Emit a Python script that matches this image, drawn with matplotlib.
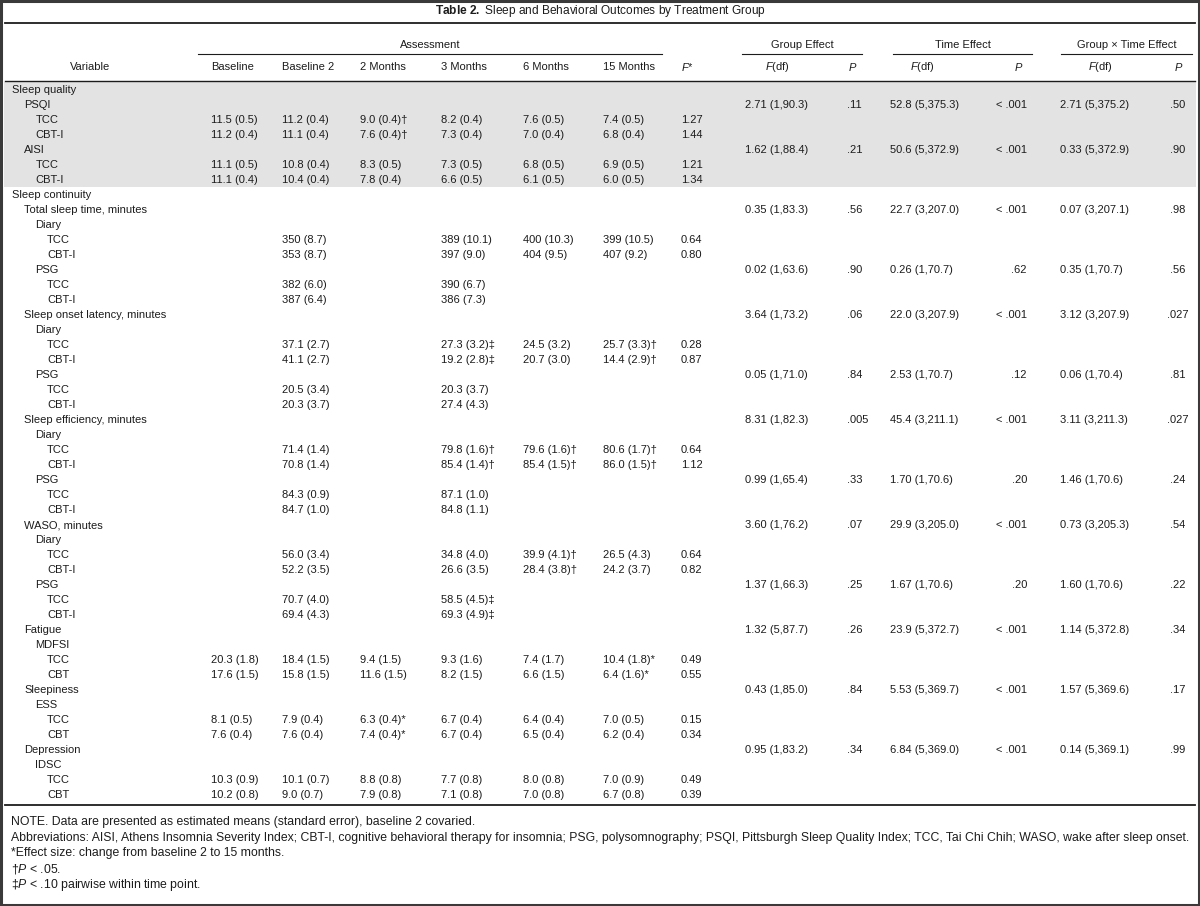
"""Table 2 (sleep and behavioral outcomes by treatment group) drawn as a matplotlib figure."""

import matplotlib

matplotlib.use("Agg")
import matplotlib.pyplot as plt  # noqa: E402
from matplotlib.patches import Rectangle  # noqa: E402

plt.rcParams["font.family"] = ["Liberation Sans", "DejaVu Sans"]
plt.rcParams["mathtext.fontset"] = "custom"
plt.rcParams["mathtext.rm"] = "Liberation Sans"
plt.rcParams["mathtext.it"] = "Liberation Sans:italic"
plt.rcParams["mathtext.bf"] = "Liberation Sans:bold"

# ---- row labels (indent level, text) ------------------------------------
row_labels = [
    "Sleep quality", "PSQI", "TCC", "CBT-I", "AISI", "TCC", "CBT-I",
    "Sleep continuity", "Total sleep time, minutes", "Diary", "TCC", "CBT-I",
    "PSG", "TCC", "CBT-I",
    "Sleep onset latency, minutes", "Diary", "TCC", "CBT-I", "PSG", "TCC", "CBT-I",
    "Sleep efficiency, minutes", "Diary", "TCC", "CBT-I", "PSG", "TCC", "CBT-I",
    "WASO, minutes", "Diary", "TCC", "CBT-I", "PSG", "TCC", "CBT-I",
    "Fatigue", "MDFSI", "TCC", "CBT",
    "Sleepiness", "ESS", "TCC", "CBT",
    "Depression", "IDSC", "TCC", "CBT",
]
row_levels = [
    0, 1, 2, 2, 1, 2, 2,
    0, 1, 2, 3, 3, 2, 3, 3,
    1, 2, 3, 3, 2, 3, 3,
    1, 2, 3, 3, 2, 3, 3,
    1, 2, 3, 3, 2, 3, 3,
    1, 2, 3, 3,
    1, 2, 3, 3,
    1, 2, 3, 3,
]

# ---- assessment means (SE), one entry per group row ---------------------
value_rows = [2, 3, 5, 6, 10, 11, 13, 14, 17, 18, 20, 21, 24, 25, 27, 28,
              31, 32, 34, 35, 38, 39, 42, 43, 46, 47]
baseline = ["11.5 (0.5)", "11.2 (0.4)", "11.1 (0.5)", "11.1 (0.4)",
            "", "", "", "", "", "", "", "", "", "", "", "", "", "", "", "",
            "20.3 (1.8)", "17.6 (1.5)", "8.1 (0.5)", "7.6 (0.4)", "10.3 (0.9)", "10.2 (0.8)"]
baseline2 = ["11.2 (0.4)", "11.1 (0.4)", "10.8 (0.4)", "10.4 (0.4)",
             "350 (8.7)", "353 (8.7)", "382 (6.0)", "387 (6.4)",
             "37.1 (2.7)", "41.1 (2.7)", "20.5 (3.4)", "20.3 (3.7)",
             "71.4 (1.4)", "70.8 (1.4)", "84.3 (0.9)", "84.7 (1.0)",
             "56.0 (3.4)", "52.2 (3.5)", "70.7 (4.0)", "69.4 (4.3)",
             "18.4 (1.5)", "15.8 (1.5)", "7.9 (0.4)", "7.6 (0.4)", "10.1 (0.7)", "9.0 (0.7)"]
month2 = ["9.0 (0.4)†", "7.6 (0.4)†", "8.3 (0.5)", "7.8 (0.4)",
          "", "", "", "", "", "", "", "", "", "", "", "", "", "", "", "",
          "9.4 (1.5)", "11.6 (1.5)", "6.3 (0.4)*", "7.4 (0.4)*", "8.8 (0.8)", "7.9 (0.8)"]
month3 = ["8.2 (0.4)", "7.3 (0.4)", "7.3 (0.5)", "6.6 (0.5)",
          "389 (10.1)", "397 (9.0)", "390 (6.7)", "386 (7.3)",
          "27.3 (3.2)‡", "19.2 (2.8)‡", "20.3 (3.7)", "27.4 (4.3)",
          "79.8 (1.6)†", "85.4 (1.4)†", "87.1 (1.0)", "84.8 (1.1)",
          "34.8 (4.0)", "26.6 (3.5)", "58.5 (4.5)‡", "69.3 (4.9)‡",
          "9.3 (1.6)", "8.2 (1.5)", "6.7 (0.4)", "6.7 (0.4)", "7.7 (0.8)", "7.1 (0.8)"]
month6 = ["7.6 (0.5)", "7.0 (0.4)", "6.8 (0.5)", "6.1 (0.5)",
          "400 (10.3)", "404 (9.5)", "", "",
          "24.5 (3.2)", "20.7 (3.0)", "", "",
          "79.6 (1.6)†", "85.4 (1.5)†", "", "",
          "39.9 (4.1)†", "28.4 (3.8)†", "", "",
          "7.4 (1.7)", "6.6 (1.5)", "6.4 (0.4)", "6.5 (0.4)", "8.0 (0.8)", "7.0 (0.8)"]
month15 = ["7.4 (0.5)", "6.8 (0.4)", "6.9 (0.5)", "6.0 (0.5)",
           "399 (10.5)", "407 (9.2)", "", "",
           "25.7 (3.3)†", "14.4 (2.9)†", "", "",
           "80.6 (1.7)†", "86.0 (1.5)†", "", "",
           "26.5 (4.3)", "24.2 (3.7)", "", "",
           "10.4 (1.8)*", "6.4 (1.6)*", "7.0 (0.5)", "6.2 (0.4)", "7.0 (0.9)", "6.7 (0.8)"]
f_star = ["1.27", "1.44", "1.21", "1.34", "0.64", "0.80", "", "",
          "0.28", "0.87", "", "", "0.64", "1.12", "", "",
          "0.64", "0.82", "", "", "0.49", "0.55", "0.15", "0.34", "0.49", "0.39"]

# ---- mixed-model effects, one entry per outcome -------------------------
effect_rows = [1, 4, 8, 12, 15, 19, 22, 26, 29, 33, 36, 40, 44]
group_f = ["2.71 (1,90.3)", "1.62 (1,88.4)", "0.35 (1,83.3)", "0.02 (1,63.6)",
           "3.64 (1,73.2)", "0.05 (1,71.0)", "8.31 (1,82.3)", "0.99 (1,65.4)",
           "3.60 (1,76.2)", "1.37 (1,66.3)", "1.32 (5,87.7)", "0.43 (1,85.0)",
           "0.95 (1,83.2)"]
group_p = [".11", ".21", ".56", ".90", ".06", ".84", ".005", ".33", ".07",
           ".25", ".26", ".84", ".34"]
time_f = ["52.8 (5,375.3)", "50.6 (5,372.9)", "22.7 (3,207.0)", "0.26 (1,70.7)",
          "22.0 (3,207.9)", "2.53 (1,70.7)", "45.4 (3,211.1)", "1.70 (1,70.6)",
          "29.9 (3,205.0)", "1.67 (1,70.6)", "23.9 (5,372.7)", "5.53 (5,369.7)",
          "6.84 (5,369.0)"]
time_p = ["< .001", "< .001", "< .001", ".62", "< .001", ".12", "< .001", ".20",
          "< .001", ".20", "< .001", "< .001", "< .001"]
gxt_f = ["2.71 (5,375.2)", "0.33 (5,372.9)", "0.07 (3,207.1)", "0.35 (1,70.7)",
         "3.12 (3,207.9)", "0.06 (1,70.4)", "3.11 (3,211.3)", "1.46 (1,70.6)",
         "0.73 (3,205.3)", "1.60 (1,70.6)", "1.14 (5,372.8)", "1.57 (5,369.6)",
         "0.14 (5,369.1)"]
gxt_p = [".50", ".90", ".98", ".56", ".027", ".81", ".027", ".24", ".54",
         ".22", ".34", ".17", ".99"]

footnotes = [
    "NOTE. Data are presented as estimated means (standard error), baseline 2 covaried.",
    "Abbreviations: AISI, Athens Insomnia Severity Index; CBT-I, cognitive behavioral therapy "
    "for insomnia; PSG, polysomnography; PSQI, Pittsburgh Sleep Quality Index; TCC, Tai Chi Chih; "
    "WASO, wake after sleep onset.",
    "*Effect size: change from baseline 2 to 15 months.",
    r"†$\it{P}$ < .05.",
    r"‡$\it{P}$ < .10 pairwise within time point.",
]

# ---- layout (pixel units, y downwards) ----------------------------------
W, H = 1200, 906
FS, FS_TITLE, FS_NOTE = 8.0, 8.6, 8.8
INK = "#1c1c1c"
ROW0, ROW_H = 90, 15
INDENT = [12, 24, 35.5, 47]


def row_y(i):
    return ROW0 + ROW_H * i


fig = plt.figure(figsize=(W / 100, H / 100), dpi=100)
ax = fig.add_axes([0, 0, 1, 1])
ax.set_xlim(0, W)
ax.set_ylim(H, 0)
ax.axis("off")

txt = dict(fontsize=FS, color=INK, va="center")

# frame + shaded block
ax.add_patch(Rectangle((1.2, 1.2), W - 2.4, H - 2.4, fill=False, lw=2.2, ec="#3a3a3a"))
ax.add_patch(Rectangle((4, 82), W - 8, 105, fc="#e3e3e3", ec="none", zorder=0))

# title and rules
ax.text(600, 11, r"$\bf{Table\ 2.}$ Sleep and Behavioral Outcomes by Treatment Group",
        ha="center", fontsize=FS_TITLE, color=INK, va="center")
ax.plot([5, 1195], [23, 23], color=INK, lw=1.3)
ax.plot([5, 1195], [81, 81], color=INK, lw=1.0)
ax.plot([5, 1195], [805, 805], color=INK, lw=1.3)

spanners = [("Assessment", 198, 662), ("Group Effect", 742, 862),
            ("Time Effect", 893, 1032), ("Group × Time Effect", 1061, 1192)]
for name, x0, x1 in spanners:
    ax.text((x0 + x1) / 2, 45, name, ha="center", **txt)
    ax.plot([x0, x1], [54, 54], color=INK, lw=0.8)

col_heads = [("Variable", 90, "center"), ("Baseline", 211, "left"),
             ("Baseline 2", 282, "left"), ("2 Months", 360, "left"),
             ("3 Months", 441, "left"), ("6 Months", 523, "left"),
             ("15 Months", 603, "left"), (r"$\it{F}$*", 681, "left"),
             (r"$\it{F}$(df)", 777, "center"), (r"$\it{P}$", 853, "center"),
             (r"$\it{F}$(df)", 922, "center"), (r"$\it{P}$", 1019, "center"),
             (r"$\it{F}$(df)", 1100, "center"), (r"$\it{P}$", 1179, "center")]
for name, x, ha in col_heads:
    ax.text(x, 67, name, ha=ha, **txt)

# body
for i, (label, lvl) in enumerate(zip(row_labels, row_levels)):
    ax.text(INDENT[lvl], row_y(i), label, ha="left", **txt)

value_cols = [(baseline, 211), (baseline2, 282), (month2, 360), (month3, 441),
              (month6, 523), (month15, 603), (f_star, 681)]
for col, x in value_cols:
    for r, s in zip(value_rows, col):
        if s:
            ax.text(x, row_y(r), s, ha="left", **txt)

effect_cols = [(group_f, 745, "left"), (group_p, 847, "left"),
               (time_f, 890, "left"), (time_p, 1027, "right"),
               (gxt_f, 1060, "left"), (gxt_p, 1178, "center")]
for col, x, ha in effect_cols:
    for r, s in zip(effect_rows, col):
        ax.text(x, row_y(r), s, ha=ha, **txt)

# footnotes
for k, line in enumerate(footnotes):
    ax.text(11, 822 + 15.7 * k, line, ha="left", fontsize=FS_NOTE, color=INK, va="center")

fig.savefig("out.png", dpi=100)
